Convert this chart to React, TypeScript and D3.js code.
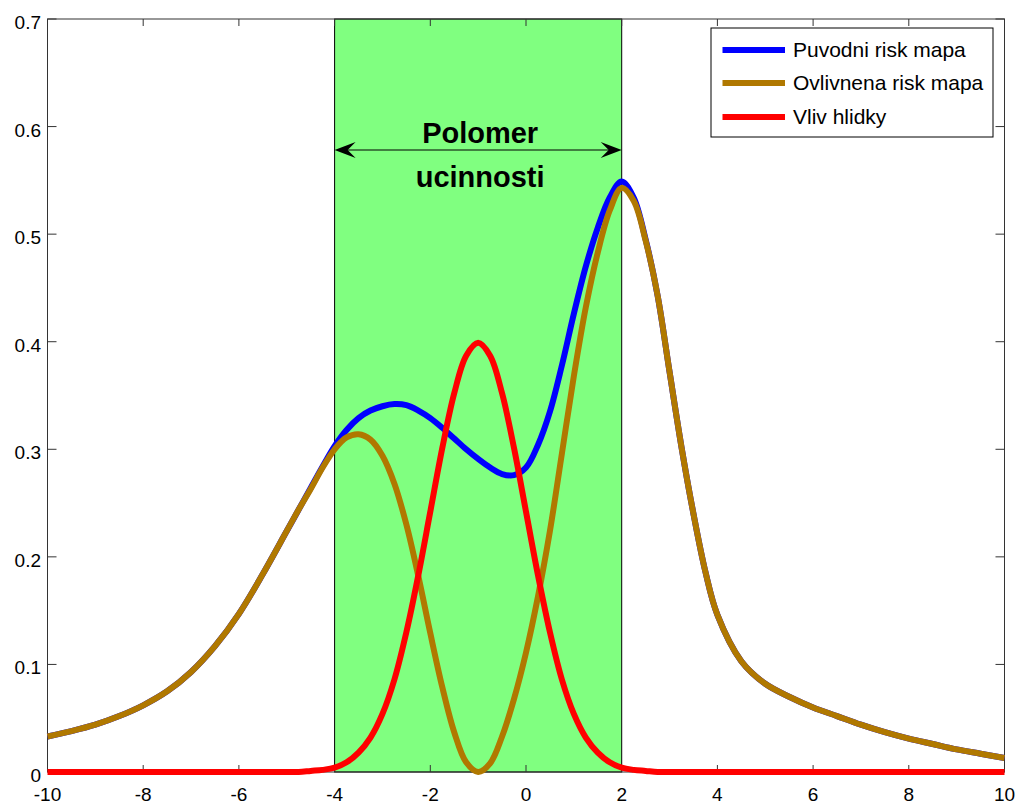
import React from "react";
import * as d3 from "d3";

const xGrid = [
  -10, -9.5, -9, -8.5, -8, -7.5, -7, -6.5, -6, -5.5, -5,
  -4.75, -4.5, -4.25, -4, -3.75, -3.5, -3.25, -3, -2.75, -2.5, -2.25, -2,
  -1.75, -1.5, -1.25, -1, -0.75, -0.5, -0.25, 0, 0.25, 0.5, 0.75, 1,
  1.25, 1.5, 1.75, 2, 2.25, 2.5, 2.75, 3, 3.25, 3.5, 3.75, 4,
  4.5, 5, 5.5, 6, 6.5, 7, 7.5, 8, 8.5, 9, 9.5, 10,
];

const puvodni = [
  0.033, 0.038, 0.044, 0.052, 0.062, 0.075, 0.093, 0.117, 0.147, 0.184, 0.224,
  0.244, 0.264, 0.284, 0.303, 0.318, 0.329, 0.336, 0.340, 0.342, 0.341, 0.336, 0.329,
  0.320, 0.310, 0.300, 0.291, 0.283, 0.277, 0.276, 0.283, 0.304, 0.335, 0.378, 0.426,
  0.470, 0.506, 0.534, 0.549, 0.534, 0.495, 0.443, 0.372, 0.302, 0.240, 0.186, 0.146,
  0.103, 0.082, 0.070, 0.060, 0.052, 0.044, 0.037, 0.031, 0.026, 0.021, 0.017, 0.013,
];

const ovlivnena = [
  0.033, 0.038, 0.044, 0.052, 0.062, 0.075, 0.093, 0.117, 0.147, 0.184, 0.224,
  0.244, 0.263, 0.283, 0.300, 0.311, 0.314, 0.309, 0.294, 0.268, 0.230, 0.182, 0.129,
  0.079, 0.037, 0.009, 0.000, 0.008, 0.033, 0.068, 0.111, 0.163, 0.224, 0.296, 0.368,
  0.432, 0.483, 0.522, 0.543, 0.531, 0.494, 0.443, 0.372, 0.302, 0.240, 0.186, 0.146,
  0.103, 0.082, 0.070, 0.060, 0.052, 0.044, 0.037, 0.031, 0.026, 0.021, 0.017, 0.013,
];

const vliv = [
  0, 0, 0, 0, 0, 0, 0, 0, 0, 0, 0,
  0.000, 0.001, 0.002, 0.004, 0.009, 0.018, 0.032, 0.054, 0.086, 0.130, 0.183, 0.242,
  0.301, 0.352, 0.387, 0.399, 0.387, 0.352, 0.301, 0.242, 0.183, 0.130, 0.086, 0.054,
  0.032, 0.018, 0.009, 0.004, 0.002, 0.001, 0.000, 0, 0, 0, 0, 0,
  0, 0, 0, 0, 0, 0, 0, 0, 0, 0, 0, 0,
];

const xTicks = [-10, -8, -6, -4, -2, 0, 2, 4, 6, 8, 10];
const yTicks = [0, 0.1, 0.2, 0.3, 0.4, 0.5, 0.6, 0.7];
const zoneRange = [-4, 2];
const legendLabels = ["Puvodni risk mapa", "Ovlivnena risk mapa", "Vliv hlidky"];
const annotationLines = ["Polomer", "ucinnosti"];

const COLORS = ["#0000ff", "#b07800", "#ff0000"];
const FONT = "'Liberation Sans', Arial, Helvetica, sans-serif";

export default function App() {
  const W = 1016;
  const H = 807;
  const left = 47.5, right = 1004.5, top = 19, bottom = 772;
  const x = d3.scaleLinear().domain([-10, 10]).range([left, right]);
  const y = d3.scaleLinear().domain([0, 0.7]).range([bottom, top]);

  const line = d3
    .line<[number, number]>()
    .x((d) => x(d[0]))
    .y((d) => y(d[1]))
    .curve(d3.curveCatmullRom.alpha(0.5));

  const series = [puvodni, ovlivnena, vliv].map((vals) =>
    xGrid.map((xv, i) => [xv, vals[i]] as [number, number])
  );

  const zx0 = x(zoneRange[0]);
  const zx1 = x(zoneRange[1]);
  const arrowY = 150;
  const cx = x(-1) + 2;

  const legX = 711, legY = 28, legW = 282, legH = 109;
  const legRows = [50, 83, 117];

  return (
    <svg
      width={W}
      height={H}
      style={{ position: "absolute", left: 0, top: 0, background: "#fff" }}
    >
      <rect x={0} y={0} width={W} height={H} fill="#fff" />
      <rect
        x={zx0}
        y={top}
        width={zx1 - zx0}
        height={bottom - top}
        fill="#80ff80"
        stroke="#000"
        strokeWidth={1}
      />
      <rect
        x={left}
        y={top}
        width={right - left}
        height={bottom - top}
        fill="none"
        stroke="#333"
        strokeWidth={1}
      />
      {xTicks.map((t) => (
        <g key={"xt" + t}>
          <line x1={x(t)} x2={x(t)} y1={bottom} y2={bottom - 7} stroke="#333" />
          <line x1={x(t)} x2={x(t)} y1={top} y2={top + 7} stroke="#333" />
          <text
            x={x(t)}
            y={801}
            textAnchor="middle"
            fontFamily={FONT}
            fontSize={19}
            fill="#000"
          >
            {String(t)}
          </text>
        </g>
      ))}
      {yTicks.map((t) => (
        <g key={"yt" + t}>
          <line x1={left} x2={left + 9} y1={y(t)} y2={y(t)} stroke="#333" />
          <line x1={right} x2={right - 9} y1={y(t)} y2={y(t)} stroke="#333" />
          <text
            x={41}
            y={y(t) + 10}
            textAnchor="end"
            fontFamily={FONT}
            fontSize={19}
            fill="#000"
          >
            {String(t)}
          </text>
        </g>
      ))}
      {series.map((s, i) => (
        <path
          key={"s" + i}
          d={line(s) || ""}
          fill="none"
          stroke={COLORS[i]}
          strokeWidth={6}
          strokeLinejoin="round"
        />
      ))}
      <line x1={zx0 + 6} x2={zx1 - 6} y1={arrowY} y2={arrowY} stroke="#000" strokeWidth={1.2} />
      <path
        d={`M${zx0},${arrowY} L${zx0 + 21},${arrowY - 8} L${zx0 + 13},${arrowY} L${zx0 + 21},${arrowY + 8} Z`}
        fill="#000"
      />
      <path
        d={`M${zx1},${arrowY} L${zx1 - 21},${arrowY - 8} L${zx1 - 13},${arrowY} L${zx1 - 21},${arrowY + 8} Z`}
        fill="#000"
      />
      <text
        x={cx}
        y={143}
        textAnchor="middle"
        fontFamily={FONT}
        fontWeight="bold"
        fontSize={29}
        fill="#000"
      >
        {annotationLines[0]}
      </text>
      <text
        x={cx}
        y={187}
        textAnchor="middle"
        fontFamily={FONT}
        fontWeight="bold"
        fontSize={29}
        fill="#000"
      >
        {annotationLines[1]}
      </text>
      <rect x={legX} y={legY} width={legW} height={legH} fill="#fff" stroke="#000" strokeWidth={1} />
      {legendLabels.map((lbl, i) => (
        <g key={"lg" + i}>
          <line
            x1={722.5}
            x2={785}
            y1={legRows[i]}
            y2={legRows[i]}
            stroke={COLORS[i]}
            strokeWidth={6}
          />
          <text
            x={793}
            y={legRows[i] + 7}
            fontFamily={FONT}
            fontSize={21}
            fill="#000"
          >
            {lbl}
          </text>
        </g>
      ))}
    </svg>
  );
}
